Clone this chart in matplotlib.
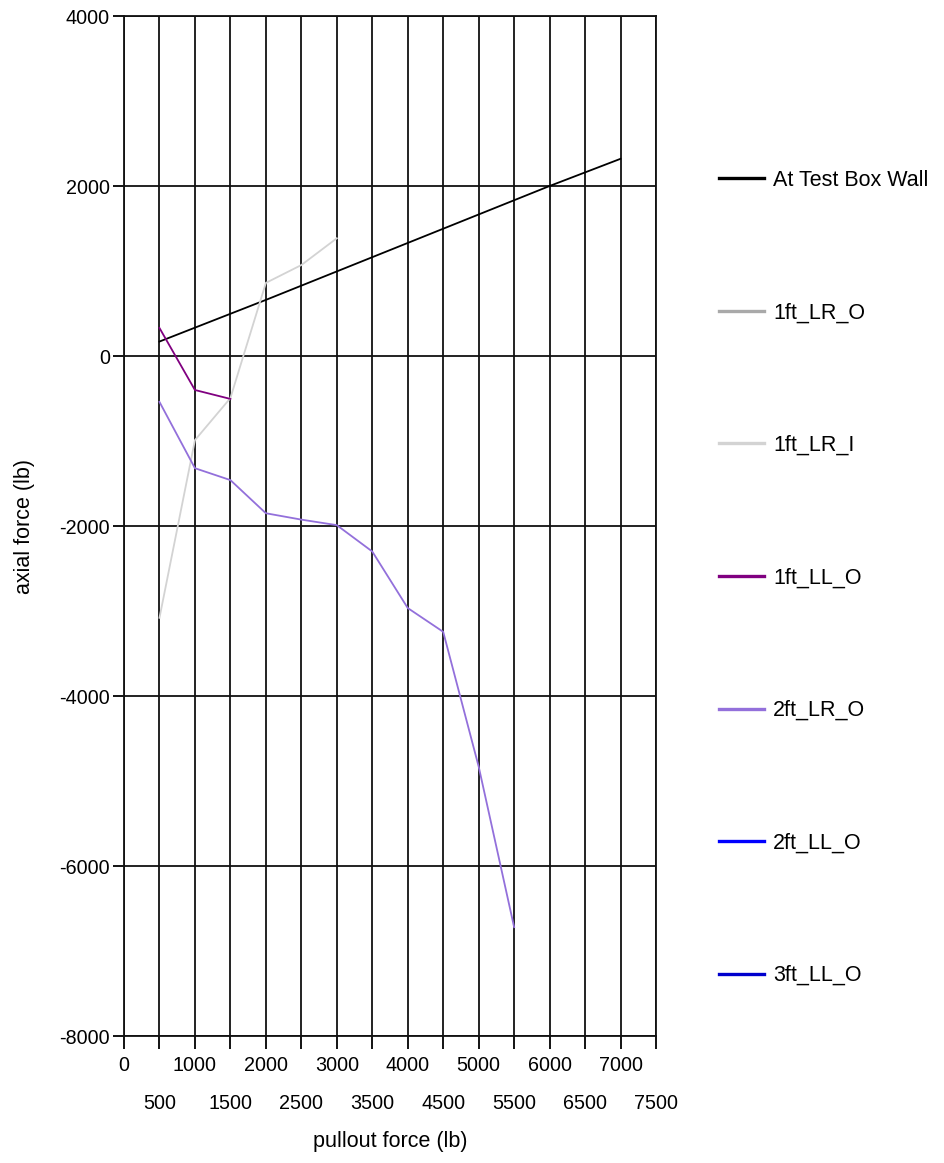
#!/usr/bin/env python3
"""
Axial force vs pullout force for the strain gauges
"""
import numpy as np
import matplotlib
matplotlib.use("Agg")
import matplotlib.pyplot as plt
from matplotlib.ticker import MultipleLocator

plt.rcParams['font.family'] = ['Liberation Sans', 'DejaVu Sans']
plt.rcParams['axes.unicode_minus'] = False

# series (lb)
wall_x = [500, 2000, 6000, 7000]
wall_y = [170, 660, 2000, 2320]

lr_o_1ft_x = []
lr_o_1ft_y = []

lr_i_1ft_x = [500, 1000, 1500, 2000, 2500, 3000]
lr_i_1ft_y = [-3080, -990, -495, 860, 1070, 1385]

ll_o_1ft_x = [500, 1000, 1500]
ll_o_1ft_y = [330, -400, -505]

lr_o_2ft_x = [500, 1000, 1500, 2000, 2500, 3000, 3500, 4000, 4500, 5000, 5500]
lr_o_2ft_y = [-540, -1320, -1460, -1850, -1925, -1990, -2300, -2965, -3245, -4830, -6720]

ll_o_2ft_x = []
ll_o_2ft_y = []

ll_o_3ft_x = []
ll_o_3ft_y = []

series = [
    ("At Test Box Wall", wall_x, wall_y, "#000000"),
    ("1ft_LR_O", lr_o_1ft_x, lr_o_1ft_y, "#A9A9A9"),
    ("1ft_LR_I", lr_i_1ft_x, lr_i_1ft_y, "#D3D3D3"),
    ("1ft_LL_O", ll_o_1ft_x, ll_o_1ft_y, "#800080"),
    ("2ft_LR_O", lr_o_2ft_x, lr_o_2ft_y, "#9370DB"),
    ("2ft_LL_O", ll_o_2ft_x, ll_o_2ft_y, "#0000FF"),
    ("3ft_LL_O", ll_o_3ft_x, ll_o_3ft_y, "#0000CD"),
]

W, H = 944, 1163
fig = plt.figure(figsize=(W / 100, H / 100), dpi=100)
ax = fig.add_axes([124 / W, 1 - 1036 / H, 532 / W, 1020 / H])

for name, xs, ys, col in series:
    ax.plot(xs, ys, color=col, lw=1.3, label=name)

ax.set_xlim(0, 7500)
ax.set_ylim(-8000, 4000)
ax.xaxis.set_major_locator(MultipleLocator(1000))
ax.set_xticks(np.arange(500, 7501, 1000), minor=True)
ax.yaxis.set_major_locator(MultipleLocator(2000))

ax.set_axisbelow(True)
ax.grid(True, which='major', color='#111111', lw=1.3)
ax.grid(True, which='minor', axis='x', color='#111111', lw=1.3)
for sp in ax.spines.values():
    sp.set_color('#111111')
    sp.set_linewidth(1.3)

tfs = 14.2   # tick labels
lfs = 15.5   # axis labels and legend
ax.tick_params(axis='x', which='major', length=9, width=1.3, pad=5.5, labelsize=tfs)
ax.tick_params(axis='x', which='minor', length=9, width=1.3, pad=33, labelsize=tfs)
ax.tick_params(axis='y', length=8, width=1.3, pad=2, labelsize=tfs)
ax.set_xticklabels([str(v) for v in range(500, 7501, 1000)], minor=True)

ax.set_xlabel('pullout force (lb)', fontsize=lfs)
ax.xaxis.set_label_coords(0.5, -0.093)
ax.set_ylabel('axial force (lb)', fontsize=lfs)
ax.yaxis.set_label_coords(-0.167, 0.5)

leg = ax.legend(loc='upper left', bbox_to_anchor=(719 / W, 1 - 170 / H),
                bbox_transform=fig.transFigure, frameon=False, fontsize=lfs,
                borderpad=0, borderaxespad=0, handlelength=2.1,
                handletextpad=0.42, labelspacing=5.18)
for ln in leg.get_lines():
    ln.set_linewidth(2.4)

fig.savefig('out.png', dpi=100)
